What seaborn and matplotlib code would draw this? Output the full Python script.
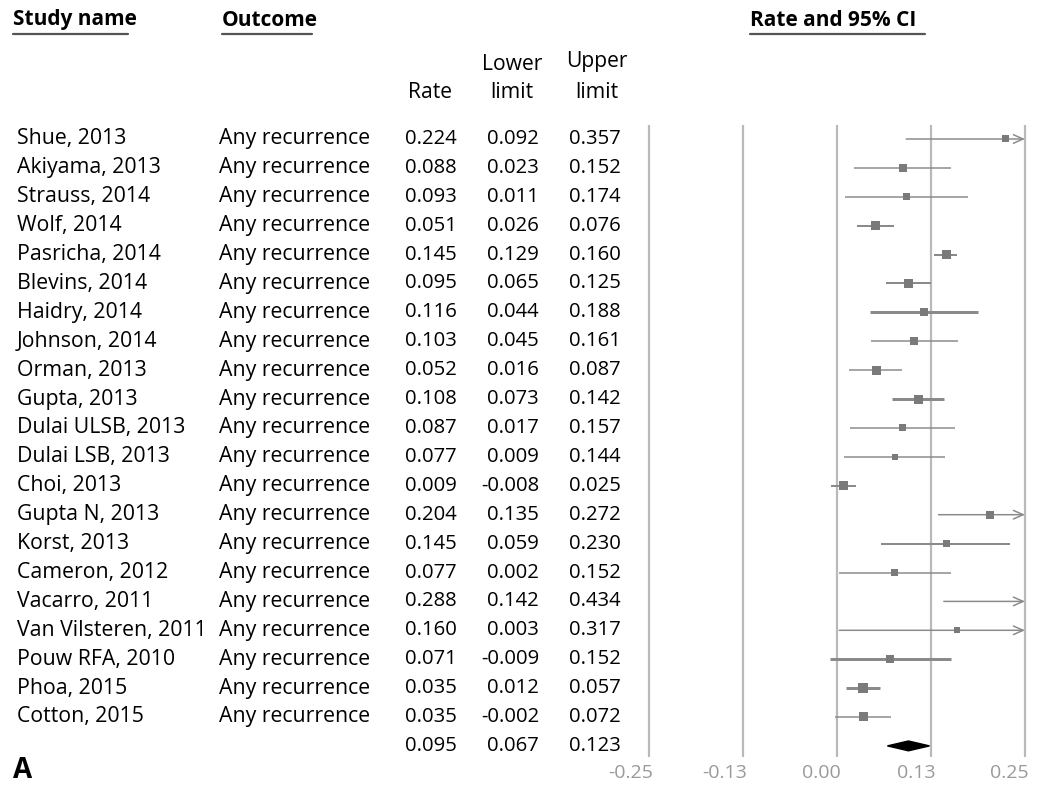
import matplotlib
matplotlib.use("Agg")
import matplotlib.pyplot as plt
import matplotlib.transforms as mtransforms
from matplotlib.lines import Line2D
import numpy as np
import pandas as pd
import seaborn as sns

# ---- study data -------------------------------------------------------
studies = [
    "Shue, 2013", "Akiyama, 2013", "Strauss, 2014", "Wolf, 2014",
    "Pasricha, 2014", "Blevins, 2014", "Haidry, 2014", "Johnson, 2014",
    "Orman, 2013", "Gupta, 2013", "Dulai ULSB, 2013", "Dulai LSB, 2013",
    "Choi, 2013", "Gupta N, 2013", "Korst, 2013", "Cameron, 2012",
    "Vacarro, 2011", "Van Vilsteren, 2011", "Pouw RFA, 2010",
    "Phoa, 2015", "Cotton, 2015",
]
outcome = "Any recurrence"
rates = [0.224, 0.088, 0.093, 0.051, 0.145, 0.095, 0.116, 0.103, 0.052,
         0.108, 0.087, 0.077, 0.009, 0.204, 0.145, 0.077, 0.288, 0.160,
         0.071, 0.035, 0.035]
lowers = [0.092, 0.023, 0.011, 0.026, 0.129, 0.065, 0.044, 0.045, 0.016,
          0.073, 0.017, 0.009, -0.008, 0.135, 0.059, 0.002, 0.142, 0.003,
          -0.009, 0.012, -0.002]
uppers = [0.357, 0.152, 0.174, 0.076, 0.160, 0.125, 0.188, 0.161, 0.087,
          0.142, 0.157, 0.144, 0.025, 0.272, 0.230, 0.152, 0.434, 0.317,
          0.152, 0.057, 0.072]
pooled_rate, pooled_lower, pooled_upper = 0.095, 0.067, 0.123

# relative study weight, shown as box size (px) and CI stroke (px)
box_px = [7, 8, 7, 9, 9, 9, 8, 8, 9, 9, 7, 6, 9, 8, 7, 7, 7, 6, 8, 10, 9]
ci_px = [1.5, 1.5, 1.5, 2, 2, 2, 3, 1.5, 1.5, 3, 1.5, 1.5, 2, 1.5, 2,
         1.5, 1.5, 1.5, 3, 3, 1.5]

ticks = [-0.25, -0.125, 0.0, 0.125, 0.25]
tick_labels = ["-0.25", "-0.13", "0.00", "0.13", "0.25"]

# ---- figure setup -----------------------------------------------------
sns.set_theme(style="white")
plt.rcParams["font.family"] = ["Open Sans", "DejaVu Sans"]

W, H = 1037, 787
fig = plt.figure(figsize=(W / 100, H / 100), dpi=100)
fig.patch.set_facecolor("white")

XMIN, XMAX = -0.255, 0.255
ZERO_PX, PX_PER_UNIT = 837, 752
ROW0_PX, ROW_PX = 139, 28.9
Y_TOP, Y_BOT = -0.5, 21.4
ax_left = ZERO_PX + XMIN * PX_PER_UNIT
ax_width = (XMAX - XMIN) * PX_PER_UNIT
ax_top = ROW0_PX + Y_TOP * ROW_PX
ax_bot = ROW0_PX + Y_BOT * ROW_PX
ax = fig.add_axes([ax_left / W, 1 - ax_bot / H, ax_width / W,
                   (ax_bot - ax_top) / H])

n = len(studies)
rows = np.arange(n)
pooled_row = n

df = pd.DataFrame({"study": studies, "rate": rates, "lower": lowers,
                   "upper": uppers, "row": rows, "box": box_px})

# reference grid lines
for t in ticks:
    ax.axvline(t, color="#b9b9b9", lw=1.6, zorder=1)

# confidence intervals (arrow where the interval runs past the scale)
ci_color = "#8a8a8a"
for r, lo, hi, w in zip(rows, lowers, uppers, ci_px):
    if hi > ticks[-1]:
        ax.annotate("", xy=(ticks[-1], r), xytext=(lo, r),
                    arrowprops=dict(arrowstyle="->,head_length=0.5,head_width=0.22",
                                    color=ci_color, lw=w * 0.72,
                                    shrinkA=0, shrinkB=0, mutation_scale=14),
                    zorder=2)
    else:
        ax.plot([lo, hi], [r, r], color=ci_color, lw=w * 0.72,
                solid_capstyle="butt", zorder=2)

# point estimates
sns.scatterplot(data=df, x="rate", y="row", size="box",
                sizes={b: (b * 0.72) ** 2 for b in set(box_px)},
                marker="s", color="#7a7a7a", edgecolor="none",
                legend=False, ax=ax, zorder=3)

# pooled estimate diamond
h = 0.17
ax.fill([pooled_lower, pooled_rate, pooled_upper, pooled_rate],
        [pooled_row, pooled_row - h, pooled_row, pooled_row + h],
        color="black", zorder=4)

ax.set_xlim(XMIN, XMAX)
ax.set_ylim(Y_BOT, Y_TOP)
ax.set_axis_off()

# ---- text table -------------------------------------------------------
row_tr = mtransforms.blended_transform_factory(fig.transFigure, ax.transData)
fs_txt = 15.3
fs_num = 14.6
ink = "#000000"
col_name, col_out = 17, 219
col_rate, col_low, col_up = 457, 539, 621

for r, name, rt, lo, hi in zip(rows, studies, rates, lowers, uppers):
    ax.text(col_name / W, r, name, transform=row_tr, ha="left", va="center",
            fontsize=fs_txt, color=ink)
    ax.text(col_out / W, r, outcome, transform=row_tr, ha="left", va="center",
            fontsize=fs_txt, color=ink)
    for x, v in ((col_rate, rt), (col_low, lo), (col_up, hi)):
        ax.text(x / W, r, f"{v:.3f}", transform=row_tr, ha="right",
                va="center", fontsize=fs_num, color=ink)

for x, v in ((col_rate, pooled_rate), (col_low, pooled_lower),
             (col_up, pooled_upper)):
    ax.text(x / W, pooled_row, f"{v:.3f}", transform=row_tr, ha="right",
            va="center", fontsize=fs_num, color=ink)

# headers
def fig_text(x, y, s, **kw):
    fig.text(x / W, 1 - y / H, s, **kw)

def underline(x0, x1, y):
    fig.add_artist(Line2D([x0 / W, x1 / W], [1 - y / H, 1 - y / H],
                          transform=fig.transFigure, color="#555555", lw=1.6))

fs_head = 15
fig_text(13, 20, "Study name", ha="left", va="center", fontsize=fs_head,
         fontweight="bold", color=ink)
underline(13, 128, 33.5)
fig_text(222, 20, "Outcome", ha="left", va="center", fontsize=fs_head,
         fontweight="bold", color=ink)
underline(222, 312, 33.5)
fig_text(750, 20, "Rate and 95% CI", ha="left", va="center", fontsize=fs_head,
         fontweight="bold", color=ink)
underline(750, 925, 33.5)

fs_col = 15.2
fig_text(430, 93, "Rate", ha="center", va="center", fontsize=fs_col, color=ink)
fig_text(512, 65, "Lower", ha="center", va="center", fontsize=fs_col, color=ink)
fig_text(512, 93, "limit", ha="center", va="center", fontsize=fs_col, color=ink)
fig_text(597, 62, "Upper", ha="center", va="center", fontsize=fs_col, color=ink)
fig_text(597, 93, "limit", ha="center", va="center", fontsize=fs_col, color=ink)

fig_text(13, 770, "A", ha="left", va="center", fontsize=20,
         fontweight="bold", color=ink)

# axis tick labels, sitting just left of each grid line
tick_tr = mtransforms.blended_transform_factory(ax.transData, fig.transFigure)
tick_tr = tick_tr + mtransforms.ScaledTranslation(4 / 100, 0, fig.dpi_scale_trans)
for t, lab in zip(ticks, tick_labels):
    ax.text(t, 1 - 773 / H, lab, transform=tick_tr, ha="right", va="center",
            fontsize=14, color="#9a9a9a", clip_on=False)

fig.savefig("out.png", dpi=100, facecolor="white")
